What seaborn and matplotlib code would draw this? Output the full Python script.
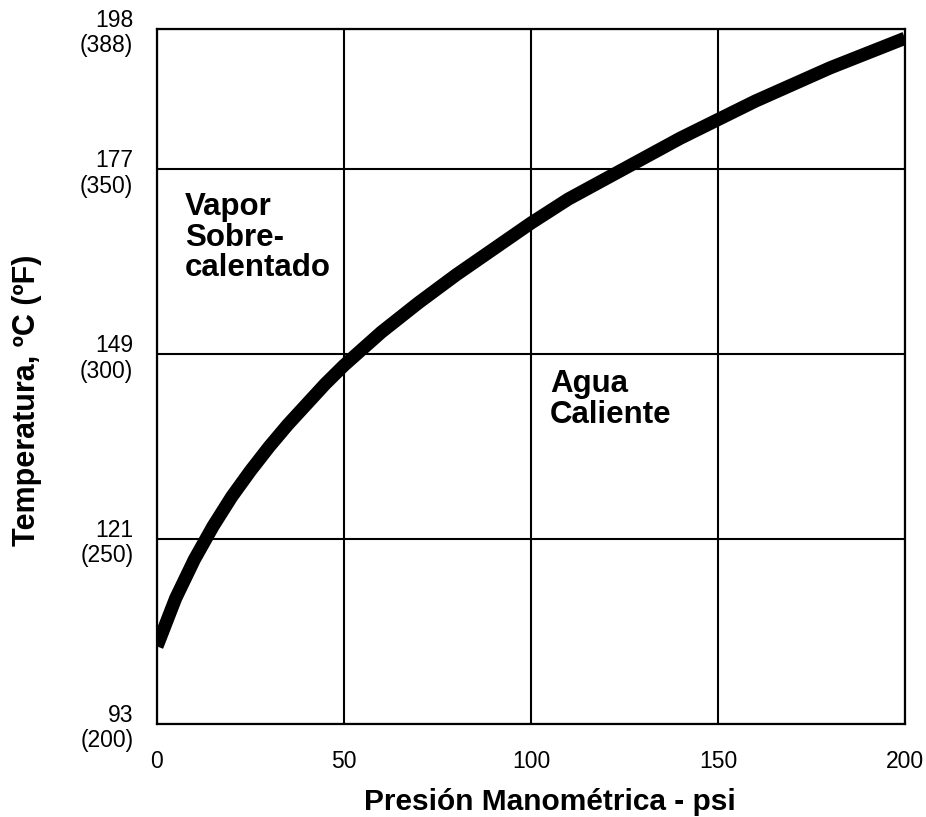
import matplotlib
matplotlib.use("Agg")
import matplotlib.pyplot as plt
import seaborn as sns
import pandas as pd

# Saturation curve: gauge pressure (psi) vs temperature (°F)
pressure_psi = [0, 5, 10, 15, 20, 25, 30, 35, 40, 45, 50, 55, 60, 70, 80, 90, 100,
                110, 120, 130, 140, 150, 160, 170, 180, 190, 200]
temp_f = [221, 234, 244.5, 253.5, 261.5, 268.5, 275, 281, 286.5, 292, 297, 301.5, 306,
          314, 321.5, 328.5, 335.5, 342, 347.5, 353, 358.5, 363.5, 368.5, 373, 377.5,
          381.5, 385.5]

x_ticks = [0, 50, 100, 150, 200]
y_ticks = [200, 250, 300, 350, 388]
y_tick_labels = ["93\n(200)", "121\n(250)", "149\n(300)", "177\n(350)", "198\n(388)"]

region_upper = "Vapor\nSobre-\ncalentado"
region_lower = "Agua\nCaliente"
x_title = "Presión Manométrica - psi"
y_title = "Temperatura, ºC (ºF)"

df = pd.DataFrame({"psi": pressure_psi, "temp": temp_f})

sns.set_theme(style="white")
plt.rcParams["font.family"] = ["Liberation Sans", "DejaVu Sans"]

fig = plt.figure(figsize=(9.26, 8.17), dpi=100)
ax = fig.add_axes([0.1695, 0.1138, 0.8078, 0.8507])

sns.lineplot(data=df, x="psi", y="temp", ax=ax, color="black",
             linewidth=9.5, solid_capstyle="butt", solid_joinstyle="round",
             zorder=3)

ax.set_xlim(0, 200)
ax.set_ylim(200, 388)
ax.set_xticks(x_ticks)
ax.set_xticklabels([str(v) for v in x_ticks])
ax.set_yticks(y_ticks)
ax.set_yticklabels(y_tick_labels)
ax.tick_params(axis="both", length=0, labelsize=16.5, colors="black")
ax.tick_params(axis="y", pad=17)
ax.tick_params(axis="x", pad=19)
for lab in ax.get_yticklabels():
    lab.set_linespacing(1.15)

ax.grid(True, color="black", linewidth=1.5, zorder=1)
for side in ax.spines.values():
    side.set_color("black")
    side.set_linewidth(1.6)

ax.set_xlabel("")
ax.set_ylabel("")

fig.text(0.594, 0.008, x_title, ha="center", va="baseline",
         fontsize=21.5, fontweight="bold", color="black")
fig.text(0.029, 0.51, y_title, ha="center", va="center", rotation=90,
         fontsize=22, fontweight="bold", color="black")

ax.text(7.5, 343.8, region_upper, ha="left", va="top", fontsize=22.5,
        fontweight="bold", color="black", linespacing=1.02, zorder=4)
ax.text(105.1, 295.9, region_lower, ha="left", va="top", fontsize=22.5,
        fontweight="bold", color="black", linespacing=1.02, zorder=4)

fig.savefig("out.png", dpi=100, facecolor="white")
